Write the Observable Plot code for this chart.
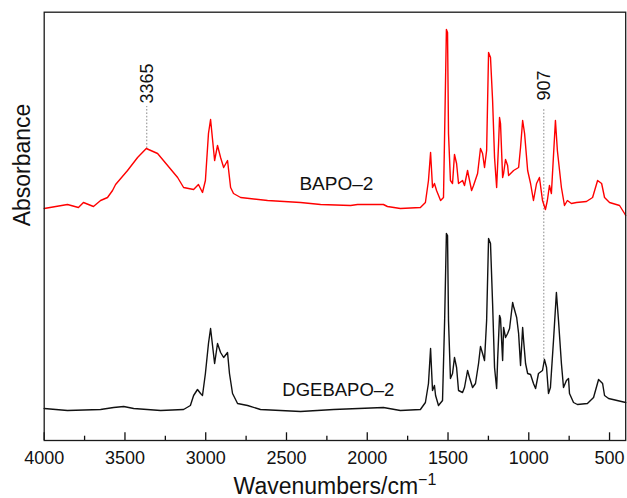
<!DOCTYPE html>
<html><head><meta charset="utf-8">
<script src="https://cdn.jsdelivr.net/npm/d3@7"></script>
<script src="https://cdn.jsdelivr.net/npm/@observablehq/plot@0.6"></script>
<style>body{margin:0;background:#fff} svg{display:block}</style>
</head><body><div id="chart"></div>
<script>
// [wavenumber cm-1, absorbance (arbitrary, offset)]
const bapo2 = [[4000,2.32],[3856,2.36],[3788,2.33],[3757,2.38],[3695,2.34],[3651,2.40],[3608,2.43],[3577,2.50],[3558,2.56],[3484,2.70],[3422,2.83],[3368,2.92],[3298,2.87],[3236,2.75],[3174,2.63],[3137,2.53],[3075,2.51],[3045,2.56],[3020,2.48],[3002,2.60],[2983,3.07],[2970,3.21],[2945,2.80],[2927,2.95],[2908,2.83],[2889,2.73],[2865,2.80],[2846,2.53],[2828,2.47],[2784,2.43],[2617,2.40],[2413,2.38],[2289,2.36],[2103,2.35],[2060,2.36],[1900,2.36],[1875,2.34],[1795,2.32],[1671,2.33],[1640,2.38],[1621,2.60],[1608,2.88],[1596,2.53],[1584,2.57],[1571,2.50],[1546,2.40],[1528,2.43],[1521,3.07],[1510,4.11],[1503,4.08],[1497,3.07],[1485,2.60],[1472,2.57],[1460,2.86],[1447,2.77],[1435,2.57],[1410,2.60],[1398,2.55],[1379,2.70],[1373,2.65],[1354,2.50],[1342,2.55],[1317,2.67],[1299,2.92],[1286,2.87],[1274,2.73],[1261,2.90],[1249,3.88],[1237,3.83],[1224,3.40],[1212,2.83],[1199,2.53],[1187,2.97],[1181,3.23],[1175,3.17],[1162,2.63],[1156,2.67],[1144,2.81],[1131,2.75],[1125,2.65],[1094,2.70],[1063,2.73],[1051,2.93],[1038,3.20],[1026,3.07],[1007,2.70],[989,2.57],[971,2.40],[952,2.57],[934,2.63],[915,2.40],[897,2.31],[885,2.40],[872,2.55],[860,2.47],[835,3.20],[823,2.90],[798,2.53],[779,2.35],[761,2.40],[736,2.37],[705,2.38],[643,2.39],[605,2.43],[574,2.60],[549,2.57],[531,2.43],[500,2.38],[438,2.35],[407,2.27],[400,2.25]];

const dgebapo2 = [[4000,0.32],[3856,0.30],[3651,0.31],[3570,0.33],[3508,0.34],[3446,0.32],[3279,0.30],[3137,0.31],[3095,0.35],[3075,0.45],[3051,0.51],[3032,0.47],[3020,0.45],[3002,0.67],[2983,0.97],[2970,1.12],[2945,0.77],[2927,0.97],[2908,0.88],[2889,0.83],[2865,0.88],[2853,0.67],[2834,0.47],[2803,0.37],[2741,0.35],[2661,0.31],[2413,0.29],[2208,0.31],[1900,0.33],[1795,0.30],[1671,0.31],[1640,0.38],[1621,0.57],[1608,0.92],[1596,0.50],[1584,0.55],[1577,0.45],[1559,0.35],[1534,0.40],[1521,1.20],[1510,2.07],[1503,2.05],[1497,1.20],[1485,0.62],[1472,0.67],[1460,0.83],[1447,0.73],[1435,0.50],[1410,0.48],[1398,0.53],[1379,0.70],[1367,0.63],[1348,0.53],[1330,0.57],[1311,0.77],[1299,0.94],[1286,0.87],[1274,0.80],[1261,1.20],[1249,2.02],[1237,1.97],[1224,1.37],[1212,0.73],[1199,0.52],[1193,0.80],[1181,1.25],[1175,1.22],[1162,0.80],[1156,1.13],[1144,1.03],[1131,1.07],[1119,1.12],[1100,1.38],[1094,1.34],[1075,1.23],[1063,1.07],[1051,0.75],[1038,1.13],[1032,1.00],[1020,0.77],[1007,0.67],[989,0.66],[971,0.57],[958,0.52],[940,0.67],[915,0.70],[903,0.81],[890,0.73],[878,0.47],[866,0.53],[847,1.00],[829,1.48],[816,1.20],[798,0.77],[785,0.53],[767,0.60],[754,0.62],[748,0.47],[723,0.38],[699,0.36],[637,0.37],[599,0.43],[568,0.61],[543,0.57],[531,0.45],[506,0.42],[400,0.38]];

const majorTicks = [4000, 3500, 3000, 2500, 2000, 1500, 1000, 500];
const minorTicks = [3750, 3250, 2750, 2250, 1750, 1250, 750];
const peakWavenumbers = [3365, 907];
const peakLabels = ["3365", "907"];
const seriesNames = ["BAPO–2", "DGEBAPO–2"];
const xTitle = "Wavenumbers/cm−1";
const yTitle = "Absorbance";

const font = "'Liberation Sans', Arial, Helvetica, sans-serif";

// dotted guide from curve peak up to the label
const valueAt = (series, w) => series.reduce((a, b) => Math.abs(b[0] - w) < Math.abs(a[0] - w) ? b : a)[1];
const guides = [
  {wn: peakWavenumbers[0], label: peakLabels[0], y1: valueAt(bapo2, peakWavenumbers[0]), y2: 3.34, yt: 3.37},
  {wn: peakWavenumbers[1], label: peakLabels[1], y1: valueAt(dgebapo2, peakWavenumbers[1]), y2: 3.32, yt: 3.40}
];
const seriesLabels = [
  {name: seriesNames[0], wn: 2191, a: 2.57, size: 19},
  {name: seriesNames[1], wn: 2179, a: 0.50, size: 18.5}
];

const chart = Plot.plot({
  width: 627, height: 498,
  marginLeft: 43.7, marginRight: 1.8, marginTop: 11.7, marginBottom: 58,
  style: {fontFamily: font, background: "#fff", color: "#111", overflow: "visible"},
  x: {domain: [4000, 400], axis: null},
  y: {domain: [0, 4.283], axis: null},
  marks: [
    Plot.ruleX(guides, {x: "wn", y1: "y1", y2: "y2", stroke: "#8a8a8a", strokeWidth: 1, strokeDasharray: "1.6 1.8"}),
    Plot.line(dgebapo2, {x: d => d[0], y: d => d[1], stroke: "#111", strokeWidth: 1.4}),
    Plot.line(bapo2, {x: d => d[0], y: d => d[1], stroke: "#ff0000", strokeWidth: 1.4}),
    Plot.text(guides, {x: "wn", y: "yt", text: "label", rotate: -90, textAnchor: "start", lineAnchor: "middle", fontSize: 18, fill: "#111"}),
    Plot.text(seriesLabels, {x: "wn", y: "a", text: "name", fontSize: d => d.size, lineAnchor: "middle", fill: "#111"}),
    Plot.axisX(majorTicks, {tickSize: -7.7, tickPadding: 18.7, fontSize: 18, tickFormat: "d", label: null, strokeWidth: 1.3}),
    Plot.axisX(minorTicks, {tickSize: -4.3, tickPadding: 0, tickFormat: () => "", label: null, strokeWidth: 1.3}),
    Plot.frame({stroke: "#1a1a1a", strokeWidth: 1.3}),
    Plot.text([xTitle], {frameAnchor: "bottom", dy: 46, fontSize: 23, lineAnchor: "middle", fill: "#111"}),
    Plot.text([yTitle], {frameAnchor: "left", dx: -21.2, rotate: -90, fontSize: 23, lineAnchor: "middle", fill: "#111"})
  ]
});

// superscript for the unit
for (const t of chart.querySelectorAll("text")) {
  if (t.textContent === xTitle) {
    t.textContent = "Wavenumbers/cm";
    const sup = document.createElementNS("http://www.w3.org/2000/svg", "tspan");
    sup.setAttribute("dy", "-0.55em");
    sup.setAttribute("font-size", "16");
    sup.textContent = "−1";
    t.appendChild(sup);
  }
}
document.getElementById("chart").appendChild(chart);
</script>
</body></html>
